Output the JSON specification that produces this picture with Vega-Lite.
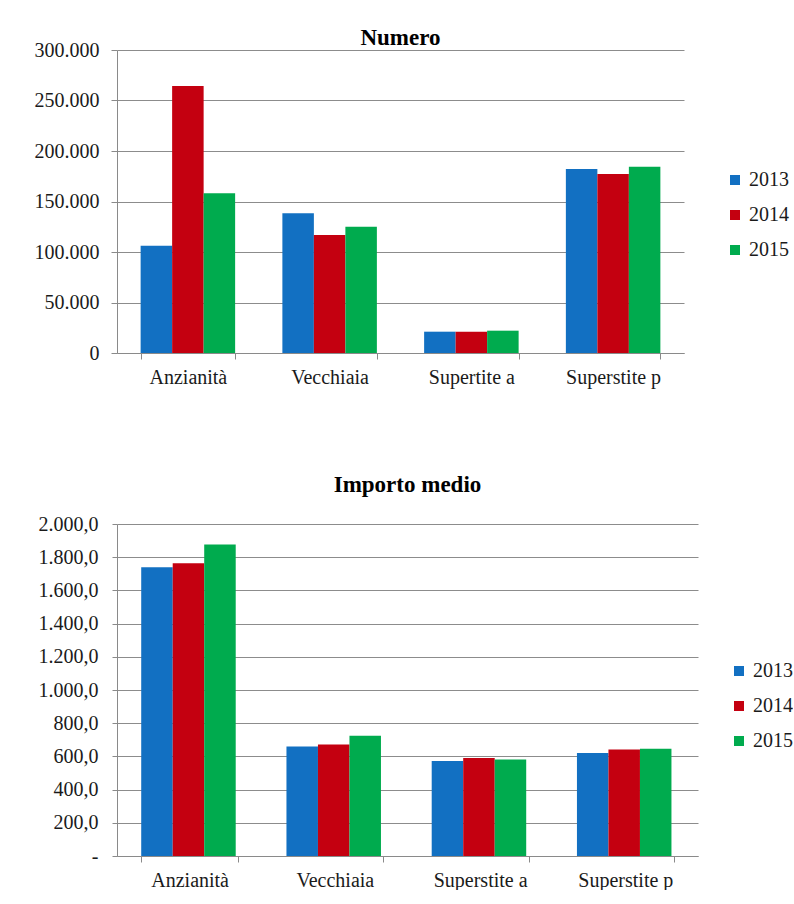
{
  "$schema": "https://vega.github.io/schema/vega-lite/v6.json",
  "background": "white",
  "padding": {"left": 34, "top": 27, "right": 0, "bottom": 0},
  "spacing": 87,
  "config": {
    "locale": {"number": {"decimal": ",", "thousands": ".", "grouping": [3], "currency": ["€", ""]}},
    "font": "Liberation Serif",
    "view": {"stroke": null},
    "axis": {"labelFont": "Liberation Serif", "labelFontSize": 20, "labelColor": "#1a1a1a", "domainColor": "#8a8a8a", "tickColor": "#8a8a8a", "gridColor": "#8c8c8c", "gridOpacity": 1, "title": null},
    "title": {"font": "Liberation Serif", "fontSize": 23, "fontWeight": "bold", "color": "#000000", "anchor": "middle", "frame": "group"},
    "legend": {"orient": "none", "symbolType": "square", "symbolSize": 100, "symbolStrokeWidth": 0, "labelFont": "Liberation Serif", "labelFontSize": 20, "labelColor": "#1a1a1a", "labelOffset": 4, "rowPadding": 15, "padding": 0, "title": null}
  },
  "datasets": {
    "numero": [
      {"categoria": "Anzianità", "anno": "2013", "valore": 106200},
      {"categoria": "Anzianità", "anno": "2014", "valore": 264400},
      {"categoria": "Anzianità", "anno": "2015", "valore": 158100},
      {"categoria": "Vecchiaia", "anno": "2013", "valore": 138300},
      {"categoria": "Vecchiaia", "anno": "2014", "valore": 116800},
      {"categoria": "Vecchiaia", "anno": "2015", "valore": 125000},
      {"categoria": "Supertite a", "anno": "2013", "valore": 21100},
      {"categoria": "Supertite a", "anno": "2014", "valore": 21100},
      {"categoria": "Supertite a", "anno": "2015", "valore": 22100},
      {"categoria": "Superstite p", "anno": "2013", "valore": 182200},
      {"categoria": "Superstite p", "anno": "2014", "valore": 177200},
      {"categoria": "Superstite p", "anno": "2015", "valore": 184500}
    ],
    "importo": [
      {"categoria": "Anzianità", "anno": "2013", "valore": 1739},
      {"categoria": "Anzianità", "anno": "2014", "valore": 1763},
      {"categoria": "Anzianità", "anno": "2015", "valore": 1877},
      {"categoria": "Vecchiaia", "anno": "2013", "valore": 660},
      {"categoria": "Vecchiaia", "anno": "2014", "valore": 672},
      {"categoria": "Vecchiaia", "anno": "2015", "valore": 724},
      {"categoria": "Superstite a", "anno": "2013", "valore": 573},
      {"categoria": "Superstite a", "anno": "2014", "valore": 590},
      {"categoria": "Superstite a", "anno": "2015", "valore": 581},
      {"categoria": "Superstite p", "anno": "2013", "valore": 621},
      {"categoria": "Superstite p", "anno": "2014", "valore": 641},
      {"categoria": "Superstite p", "anno": "2015", "valore": 646}
    ]
  },
  "vconcat": [
    {
      "data": {"name": "numero"},
      "title": {"text": "Numero", "offset": -10},
      "width": 567,
      "height": 303,
      "mark": {"type": "bar"},
      "encoding": {
        "x": {"field": "categoria", "type": "nominal", "sort": ["Anzianità", "Vecchiaia", "Supertite a", "Superstite p"],
              "scale": {"paddingInner": 0.3333, "paddingOuter": 0.1667},
              "axis": {"labelAngle": 0, "tickBand": "extent", "tickSize": 6, "labelPadding": 8}},
        "xOffset": {"field": "anno", "type": "nominal"},
        "y": {"field": "valore", "type": "quantitative", "scale": {"domain": [0, 300000]},
              "axis": {"values": [0, 50000, 100000, 150000, 200000, 250000, 300000], "format": ",d", "tickSize": 6, "labelPadding": 12, "grid": true}},
        "color": {"field": "anno", "type": "nominal", "scale": {"domain": ["2013", "2014", "2015"], "range": ["#1270c2", "#c40010", "#00ab4e"]},
                  "legend": {"legendX": 608, "legendY": 120}}
      }
    },
    {
      "data": {"name": "importo"},
      "title": {"text": "Importo medio", "offset": 17},
      "width": 581,
      "height": 332,
      "mark": {"type": "bar"},
      "encoding": {
        "x": {"field": "categoria", "type": "nominal", "sort": ["Anzianità", "Vecchiaia", "Superstite a", "Superstite p"],
              "scale": {"paddingInner": 0.3333, "paddingOuter": 0.1667},
              "axis": {"labelAngle": 0, "tickBand": "extent", "tickSize": 6, "labelPadding": 8}},
        "xOffset": {"field": "anno", "type": "nominal"},
        "y": {"field": "valore", "type": "quantitative", "scale": {"domain": [0, 2000]},
              "axis": {"values": [0, 200, 400, 600, 800, 1000, 1200, 1400, 1600, 1800, 2000], "format": ",.1f", "labelExpr": "datum.value == 0 ? '-' : datum.label", "tickSize": 5, "labelPadding": 14, "grid": true}},
        "color": {"field": "anno", "type": "nominal", "scale": {"domain": ["2013", "2014", "2015"], "range": ["#1270c2", "#c40010", "#00ab4e"]},
                  "legend": {"legendX": 612, "legendY": 137}}
      }
    }
  ],
  "resolve": {"scale": {"color": "independent"}, "legend": {"color": "independent"}}
}
